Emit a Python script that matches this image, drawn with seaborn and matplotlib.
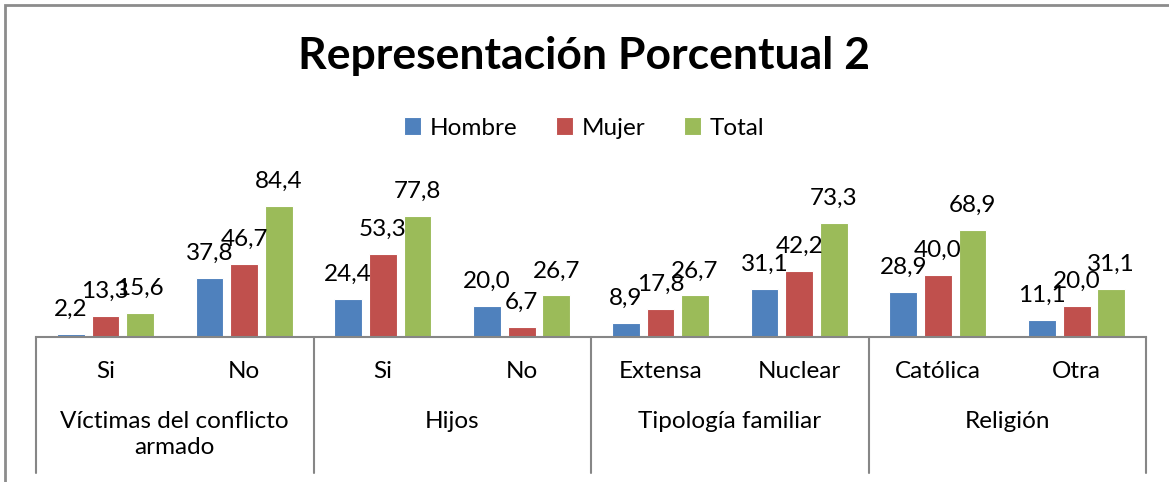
import pandas as pd
import seaborn as sns
import matplotlib.pyplot as plt
from matplotlib.patches import Rectangle

# --- Data ---
grupos = ["Víctimas del conflicto\narmado", "Hijos", "Tipología familiar", "Religión"]
subcategorias = ["Si", "No", "Si", "No", "Extensa", "Nuclear", "Católica", "Otra"]
grupo_idx = [0, 0, 1, 1, 2, 2, 3, 3]
series = ["Hombre", "Mujer", "Total"]
hombre = [2.2, 37.8, 24.4, 20.0, 8.9, 31.1, 28.9, 11.1]
mujer = [13.3, 46.7, 53.3, 6.7, 17.8, 42.2, 40.0, 20.0]
total = [15.6, 84.4, 77.8, 26.7, 26.7, 73.3, 68.9, 31.1]
colores = ["#4F81BD", "#C0504D", "#9BBB59"]

# long format table for seaborn
claves = [f"{grupo_idx[i]}-{s}" for i, s in enumerate(subcategorias)]
filas = []
for nombre, valores in zip(series, [hombre, mujer, total]):
    for k, v in zip(claves, valores):
        filas.append({"clave": k, "serie": nombre, "valor": v})
df = pd.DataFrame(filas)

sns.set_style("white")
plt.rcParams["font.family"] = ["Lato", "DejaVu Sans"]
plt.rcParams["text.color"] = "black"

W, H = 1169, 482
fig = plt.figure(figsize=(W / 100, H / 100), dpi=100)
x0, x1 = 36, 1146
base, top = 337, 337 - 90 * 1.556
ax = fig.add_axes([x0 / W, (H - base) / H, (x1 - x0) / W, (base - top) / H])

sns.barplot(data=df, x="clave", y="valor", hue="serie", order=claves,
            hue_order=series, palette=colores, width=0.75, gap=0.2,
            edgecolor="white", linewidth=0.8, saturation=1, ax=ax)

handles, labels = ax.get_legend_handles_labels()
ax.get_legend().remove()
fig.legend(handles, labels, loc="center", bbox_to_anchor=(0.5, (H - 128) / H),
           ncol=3, frameon=False, fontsize=17.5, handlelength=0.7,
           handleheight=0.7, handletextpad=0.35, columnspacing=1.6)

# data labels
for cont in ax.containers:
    for barra in cont:
        v = barra.get_height()
        ax.annotate(f"{v:.1f}".replace(".", ","),
                    (barra.get_x() + barra.get_width() / 2, v),
                    xytext=(0, 13), textcoords="offset points",
                    ha="center", va="baseline", fontsize=17.5, color="black",
                    annotation_clip=False)

ax.set_xlim(-0.5, len(claves) - 0.5)
ax.set_ylim(0, 90)
ax.set_xlabel("")
ax.set_ylabel("")
ax.set_xticks([])
ax.set_yticks([])
for lado in ["left", "right", "top"]:
    ax.spines[lado].set_visible(False)
ax.spines["bottom"].set_color("#868686")
ax.spines["bottom"].set_linewidth(1.5)

# multi-level category axis
gris = "#868686"
trans = ax.get_xaxis_transform()
alto_px = base - top
def y_ax(py):
    return (base - py) / alto_px

for i, s in enumerate(subcategorias):
    ax.text(i, y_ax(372), s, transform=trans, ha="center", va="center",
            fontsize=17.5, clip_on=False)
for g, nombre in enumerate(grupos):
    ax.text(2 * g + 0.5, y_ax(411), nombre, transform=trans, ha="center",
            va="top", fontsize=17.5, linespacing=1.3, clip_on=False)
for g in range(len(grupos) + 1):
    ax.plot([2 * g - 0.5, 2 * g - 0.5], [0, y_ax(473)], transform=trans,
            color=gris, lw=1.5, clip_on=False)

fig.suptitle("Representación Porcentual 2", y=(H - 56) / H, va="center",
             fontsize=32, fontweight="bold", color="black")

# chart frame
fig.patches.append(Rectangle((5 / W, -0.1), 1.2, (H - 5) / H + 0.1,
                             transform=fig.transFigure, fill=False,
                             edgecolor="#8c8c8c", lw=2))

fig.savefig("out.png", dpi=100)
